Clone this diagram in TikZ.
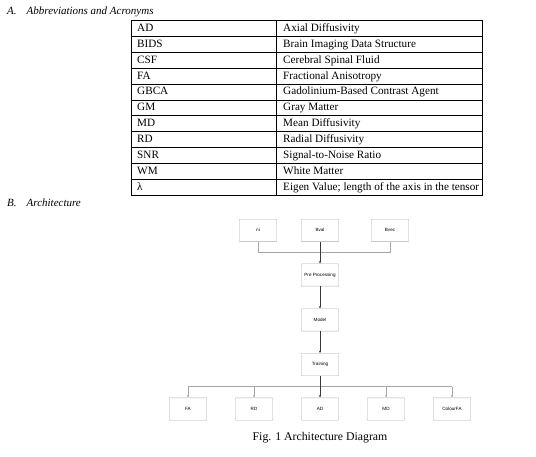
\documentclass[tikz,border=0pt]{standalone}
\usepackage{fontspec}
\setmainfont{Liberation Serif}
\newfontfamily\boxfont{Liberation Sans}
\usetikzlibrary{positioning,arrows.meta}

\begin{document}
\begin{tikzpicture}[x=1pt, y=-1pt,
    blk/.style={rectangle, draw=gray!65, rounded corners=0.6pt, minimum width=37.5pt, minimum height=22.4pt, inner sep=0pt, text height=3.4pt, text depth=0.9pt, font=\boxfont\fontsize{4.6}{5}\selectfont},
    link/.style={draw=gray!70, line width=0.6pt},
    arrow/.style={-{Stealth[length=2.6pt,width=2.2pt]}, draw=gray!70, line width=0.6pt},
    stem/.style={arrow, draw=gray!45!black, line width=1pt},
    cell/.style={anchor=base west, inner sep=0pt, font=\fontsize{11.2}{12}\selectfont},
    heading/.style={anchor=base west, inner sep=0pt, font=\itshape\fontsize{11}{12}\selectfont}
]
    \useasboundingbox (0,0) rectangle (536,457);

    % section headings
    \node[heading] (hA) at (7,15) {A.\hspace{10pt}Abbreviations and Acronyms};
    \node[heading] (hB) at (7,206.5) {B.\hspace{10pt}Architecture};

    % table of abbreviations
    \draw[line width=0.5pt] (131.7,20.5) rectangle (482,195);
    \draw[line width=0.5pt] (276,20.5) -- (276,195);
    \foreach \k in {1,...,10}
        \draw[line width=0.5pt] (131.7,20.5+15.86*\k) -- (482,20.5+15.86*\k);
    \foreach \abbr/\full [count=\i] in {AD/Axial Diffusivity, BIDS/Brain Imaging Data Structure,
        CSF/Cerebral Spinal Fluid, FA/Fractional Anisotropy, GBCA/Gadolinium-Based Contrast Agent,
        GM/Gray Matter, MD/Mean Diffusivity, RD/Radial Diffusivity, SNR/Signal-to-Noise Ratio,
        WM/White Matter, λ/Eigen Value; length of the axis in the tensor} {
        \node[cell] (ab\i) at (137,20.5+15.86*\i-4.9) {\abbr};
        \node[cell] (fu\i) at (283,20.5+15.86*\i-4.9) {\full};
    }

    % architecture diagram
    \node[blk] (ni) at (258,230.5) {ni};
    \node[blk] (bval) at (320,230.5) {Bval};
    \node[blk] (bvec) at (390,230.5) {Bvec};
    \node[blk] (pre) at (320,275) {Pre Processing};
    \node[blk] (model) at (320,320) {Model};
    \node[blk] (train) at (320,364.5) {Training};

    \node[blk] (fa) at (188,409) {FA};
    \node[blk] (rd) at (254,409) {RD};
    \node[blk] (ad) at (320,409) {AD};
    \node[blk] (md) at (386,409) {MD};
    \node[blk] (cfa) at (452,409) {ColourFA};

    \coordinate (topbus) at (320,252.7);
    \coordinate (botbus) at (320,386.7);

    \draw[link] (ni.south) |- (topbus) -| (bvec.south);
    \draw[stem] (bval.south) -- (pre.north);
    \draw[stem] (pre.south) -- (model.north);
    \draw[stem] (model.south) -- (train.north);

    \draw[link] (botbus -| fa.north) -- (botbus -| cfa.north);
    \foreach \n in {fa,rd,md,cfa}
        \draw[arrow] (botbus -| \n.north) -- (\n.north);
    \draw[stem] (train.south) -- (ad.north);

    % caption
    \node[anchor=base, inner sep=0pt, font=\fontsize{11.8}{13}\selectfont] (cap) at (320,440.5) {Fig. 1 Architecture Diagram};
\end{tikzpicture}
\end{document}
